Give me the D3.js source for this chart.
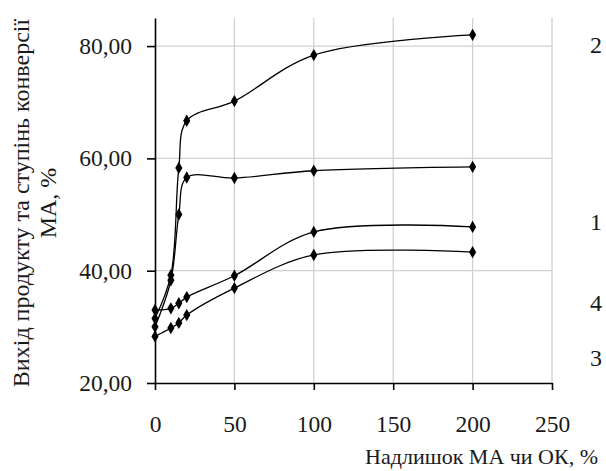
<!DOCTYPE html>
<html>
<head>
<meta charset="utf-8">
<script src="https://cdn.jsdelivr.net/npm/d3@7"></script>
<style>
  body { margin: 0; background: #fff; }
  svg { display: block; font-family: "Liberation Serif", "Times New Roman", serif; }
</style>
</head>
<body>
<svg width="606" height="471"></svg>
<script>
let width = 606,
  height = 471;

// excess of MA or OK, %
let excess = [0, 10, 15, 20, 50, 100, 200];

// series
let series2 = [31.5, 39.2, 58.3, 66.7, 70.2, 78.4, 82.0];
let series1 = [30.0, 38.3, 50.0, 56.6, 56.5, 57.8, 58.5];
let series3 = [33.0, 33.3, 34.2, 35.3, 39.1, 46.9, 47.8];
let series4 = [28.3, 29.8, 30.7, 32.1, 36.9, 42.8, 43.3];

let xTicks = [0, 50, 100, 150, 200, 250];
let yTicks = [20, 40, 60, 80];

// curve labels on the right side (value on the y scale)
let labelNames = ["2", "1", "4", "3"];
let labelValues = [80.2, 48.8, 34.3, 24.6];

let svg = d3.select("svg").attr("viewBox", "0 0 " + width + " " + height);

let x = d3.scaleLinear().domain([0, 250]).range([155, 552]);
let y = d3.scaleLinear().domain([20, 85]).range([383, 18]);

let fmt = (d) => d3.format(".2f")(d).replace(".", ",");

// grid
svg.append("g")
  .selectAll("line")
  .data(xTicks.slice(1))
  .enter()
  .append("line")
  .attr("x1", (d) => x(d)).attr("x2", (d) => x(d))
  .attr("y1", y(85)).attr("y2", y(20))
  .attr("stroke", "#d0d0d0")
  .attr("stroke-width", 1.3);

svg.append("g")
  .selectAll("line")
  .data(yTicks.slice(1))
  .enter()
  .append("line")
  .attr("x1", x(0)).attr("x2", x(250))
  .attr("y1", (d) => y(d)).attr("y2", (d) => y(d))
  .attr("stroke", "#d0d0d0")
  .attr("stroke-width", 1.3);

// axes
let xAxis = svg.append("g")
  .attr("transform", "translate(0," + y(20) + ")")
  .call(d3.axisBottom(x).tickValues(xTicks).tickSize(7).tickSizeOuter(0).tickPadding(25).tickFormat(d3.format("d")));

let yAxis = svg.append("g")
  .attr("transform", "translate(" + x(0) + ",0)")
  .call(d3.axisLeft(y).tickValues(yTicks).tickSize(8).tickSizeOuter(0).tickPadding(15).tickFormat(fmt));

[xAxis, yAxis].forEach((g) => {
  g.select(".domain").attr("stroke", "#000").attr("stroke-width", 1.6);
  g.selectAll(".tick line").attr("stroke", "#000").attr("stroke-width", 1.6);
  g.selectAll(".tick text")
    .attr("fill", "#1a1a1a")
    .style("font-size", "23.5px")
    .style("font-family", "Liberation Serif, serif");
});

// series lines and markers
let allSeries = [series2, series1, series3, series4];
let line = d3.line()
  .x((d, i) => x(excess[i]))
  .y((d) => y(d))
  .curve(d3.curveCatmullRom.alpha(0.5));

let marker = d3.symbol().type(d3.symbolDiamond).size(44);

allSeries.forEach((s) => {
  svg.append("path")
    .datum(s)
    .attr("d", line)
    .attr("fill", "none")
    .attr("stroke", "#000")
    .attr("stroke-width", 1.3);

  svg.append("g")
    .selectAll("path")
    .data(s)
    .enter()
    .append("path")
    .attr("d", marker)
    .attr("transform", (d, i) => "translate(" + x(excess[i]) + "," + y(d) + ")")
    .attr("fill", "#000");
});

// labels at the right
svg.append("g")
  .selectAll("text")
  .data(labelNames)
  .enter()
  .append("text")
  .attr("x", 596)
  .attr("y", (d, i) => y(labelValues[i]))
  .attr("dy", "0.35em")
  .attr("text-anchor", "middle")
  .style("font-size", "24px")
  .attr("fill", "#1a1a1a")
  .text((d) => d);

// axis titles
svg.append("text")
  .attr("x", 598)
  .attr("y", 456)
  .attr("dy", "0.35em")
  .attr("text-anchor", "end")
  .style("font-size", "22px")
  .attr("fill", "#1a1a1a")
  .text("Надлишок МА чи ОК, %");

let yTitle = svg.append("text")
  .attr("transform", "translate(0,203) rotate(-90)")
  .attr("text-anchor", "middle")
  .style("font-size", "24px")
  .attr("fill", "#1a1a1a");

yTitle.append("tspan").attr("x", 0).attr("y", 21).attr("dy", "0.35em")
  .text("Вихід продукту та ступінь конверсії");
yTitle.append("tspan").attr("x", 0).attr("y", 48).attr("dy", "0.35em")
  .text("МА, %");
</script>
</body>
</html>
